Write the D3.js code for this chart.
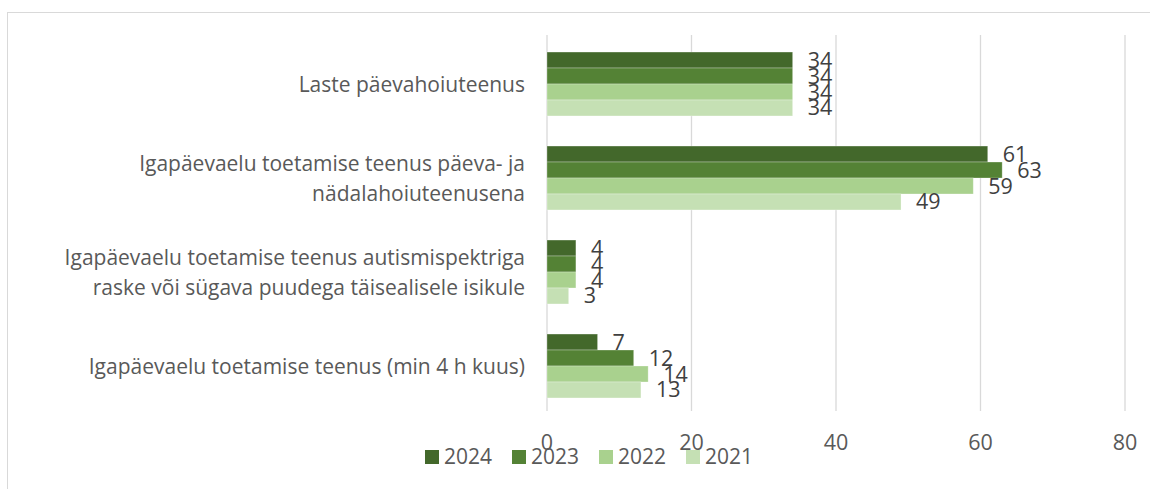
<!DOCTYPE html>
<html><head><meta charset="utf-8">
<script src="https://cdn.jsdelivr.net/npm/d3@7"></script>
<style>body{margin:0;background:#fff;}svg{display:block;}</style>
</head><body>
<script>
const categories = [
  ["Laste päevahoiuteenus"],
  ["Igapäevaelu toetamise teenus päeva- ja", "nädalahoiuteenusena"],
  ["Igapäevaelu toetamise teenus autismispektriga", "raske või sügava puudega täisealisele isikule"],
  ["Igapäevaelu toetamise teenus (min 4 h kuus)"]
];
const seriesNames = ["2024", "2023", "2022", "2021"];
const values2024 = [34, 61, 4, 7];
const values2023 = [34, 63, 4, 12];
const values2022 = [34, 59, 4, 14];
const values2021 = [34, 49, 3, 13];
const colors = ["#43682b", "#548235", "#a9d18e", "#c5e0b4"];
const xTicks = [0, 20, 40, 60, 80];

const series = [values2024, values2023, values2022, values2021];
const W = 1150, H = 489;
const font = "'Open Sans', sans-serif";
const svg = d3.select("body").append("svg").attr("width", W).attr("height", H);

svg.append("rect").attr("x", 7.5).attr("y", 12.5).attr("width", W).attr("height", H)
  .attr("fill", "#fff").attr("stroke", "#d9d9d9").attr("stroke-width", 1);

const x = d3.scaleLinear().domain([0, 80]).range([547, 1125]);
const y = d3.scaleBand().domain(d3.range(categories.length)).range([37, 413]).paddingInner(0.32).paddingOuter(0.16);
const ySub = d3.scaleBand().domain(d3.range(seriesNames.length)).range([0, y.bandwidth()]);

// gridlines
svg.append("g").selectAll("line").data(xTicks).join("line")
  .attr("x1", d => x(d)).attr("x2", d => x(d)).attr("y1", 35).attr("y2", 411)
  .attr("stroke", "#d9d9d9").attr("stroke-width", 1.3);

// bars
const gs = svg.append("g").selectAll("g").data(categories).join("g")
  .attr("transform", (d, i) => `translate(0,${y(i)})`);
gs.each(function(c, ci) {
  const g = d3.select(this);
  series.forEach((s, si) => {
    g.append("rect").attr("x", x(0)).attr("y", ySub(si))
      .attr("width", x(s[ci]) - x(0)).attr("height", ySub.bandwidth())
      .attr("fill", colors[si]).attr("stroke", "rgba(255,255,255,0.35)").attr("stroke-width", 0.8);
  });
  series.forEach((s, si) => {
    g.append("text").attr("x", x(s[ci]) + 15).attr("y", ySub(si) + ySub.bandwidth() / 2)
      .attr("dy", "0.35em").attr("font-family", font).attr("font-size", 21.5)
      .attr("fill", "#404040").text(s[ci]);
  });
});

// category labels
categories.forEach((lines, i) => {
  const cy = y(i) + y.bandwidth() / 2 + 1;
  const lh = 30;
  lines.forEach((t, li) => {
    svg.append("text").attr("x", 525).attr("y", cy + (li - (lines.length - 1) / 2) * lh)
      .attr("dy", "0.35em").attr("text-anchor", "end")
      .attr("font-family", font).attr("font-size", 21).attr("fill", "#595959").text(t);
  });
});

// x axis labels
svg.append("g").selectAll("text").data(xTicks).join("text")
  .attr("x", d => x(d)).attr("y", 442).attr("dy", "0.35em").attr("text-anchor", "middle")
  .attr("font-family", font).attr("font-size", 21.5).attr("fill", "#595959").text(d => d);

// legend
const lg = svg.append("g").selectAll("g").data(seriesNames).join("g")
  .attr("transform", (d, i) => `translate(${425 + i * 87},457)`);
lg.append("rect").attr("x", 0).attr("y", -7).attr("width", 14).attr("height", 14).attr("fill", (d, i) => colors[i]);
lg.append("text").attr("x", 19).attr("y", 0).attr("dy", "0.35em")
  .attr("font-family", font).attr("font-size", 21).attr("fill", "#595959").text(d => d);
</script>
</body></html>
